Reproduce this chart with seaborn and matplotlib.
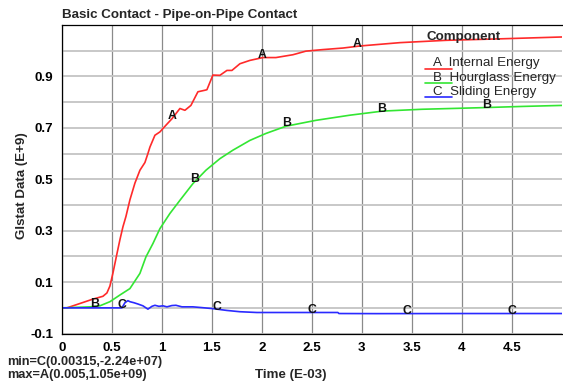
import numpy as np
import pandas as pd
import matplotlib
matplotlib.use("Agg")
import matplotlib.pyplot as plt
from matplotlib.ticker import MultipleLocator
import seaborn as sns

# time axis is in E-03 s, energies in E+9
t_internal = [0, 0.05, 0.18, 0.31, 0.41, 0.45, 0.48, 0.51, 0.55, 0.58, 0.61, 0.64,
              0.68, 0.73, 0.78, 0.83, 0.86, 0.88, 0.93, 0.98, 1.04, 1.10, 1.18, 1.23,
              1.29, 1.36, 1.43, 1.45, 1.51, 1.58, 1.65, 1.70, 1.78, 1.88, 2.01, 2.14,
              2.31, 2.44, 2.61, 2.81, 2.98, 3.38, 3.84, 4.40, 5.00]
e_internal = [0, 0, 0.017, 0.034, 0.045, 0.058, 0.085, 0.135, 0.21, 0.265, 0.315, 0.355,
              0.42, 0.485, 0.535, 0.565, 0.60, 0.625, 0.671, 0.684, 0.71, 0.735, 0.775, 0.768,
              0.787, 0.84, 0.846, 0.848, 0.905, 0.904, 0.923, 0.923, 0.949, 0.962, 0.973, 0.973,
              0.984, 0.998, 1.004, 1.01, 1.018, 1.031, 1.04, 1.046, 1.053]

t_hourglass = [0, 0.28, 0.38, 0.48, 0.58, 0.68, 0.78, 0.84, 0.91, 0.98, 1.08, 1.18, 1.31,
               1.44, 1.58, 1.71, 1.88, 2.04, 2.24, 2.54, 2.88, 3.21, 3.60, 4.18, 4.60, 5.00]
e_hourglass = [0, 0.004, 0.008, 0.024, 0.05, 0.075, 0.134, 0.198, 0.25, 0.308, 0.367, 0.418, 0.483,
               0.535, 0.58, 0.613, 0.651, 0.678, 0.706, 0.729, 0.749, 0.765, 0.772, 0.778, 0.783, 0.787]

t_sliding = [0, 0.60, 0.63, 0.66, 0.68, 0.72, 0.76, 0.81, 0.86, 0.90, 0.93, 0.97, 1.01, 1.05,
             1.10, 1.14, 1.20, 1.31, 1.40, 1.51, 1.65, 1.78, 1.95, 2.38, 2.76, 2.77, 3.15, 4.00, 5.00]
e_sliding = [0, 0, 0.02, 0.028, 0.024, 0.02, 0.015, 0.008, -0.005, 0.006, 0.01, 0.006, 0.008, 0.004,
             0.009, 0.01, 0.004, 0.004, 0.001, -0.003, -0.01, -0.015, -0.018, -0.018, -0.018, -0.022,
             -0.0224, -0.022, -0.022]

series_names = ["Internal Energy", "Hourglass Energy", "Sliding Energy"]
series_letters = ["A", "B", "C"]
series_colors = ["#ff2a2a", "#33e633", "#2a2aff"]

# where the curve letters sit along the time axis
label_t_A = [1.10, 2.00, 2.95]
label_t_B = [0.33, 1.33, 2.25, 3.20, 4.25]
label_t_C = [0.60, 1.55, 2.50, 3.45, 4.50]

y_ticks = [-0.1, 0.0, 0.1, 0.2, 0.3, 0.4, 0.5, 0.6, 0.7, 0.8, 0.9, 1.0]
y_tick_labels = ["-0.1", "", "0.1", "", "0.3", "", "0.5", "", "0.7", "", "0.9", ""]
x_ticks = [0, 0.5, 1, 1.5, 2, 2.5, 3, 3.5, 4, 4.5]
x_tick_labels = ["0", "0.5", "1", "1.5", "2", "2.5", "3", "3.5", "4", "4.5"]

df = pd.concat([
    pd.DataFrame({"t": t_internal, "e": e_internal, "comp": series_names[0]}),
    pd.DataFrame({"t": t_hourglass, "e": e_hourglass, "comp": series_names[1]}),
    pd.DataFrame({"t": t_sliding, "e": e_sliding, "comp": series_names[2]}),
])

sns.set_style("white")
plt.rcParams["font.family"] = ["Liberation Sans", "DejaVu Sans"]
FS = 9.6

fig = plt.figure(figsize=(5.63, 3.83), dpi=100)
ax = fig.add_axes([0.110, 0.129, 0.888, 0.806])

sns.lineplot(data=df, x="t", y="e", hue="comp", palette=series_colors,
             estimator=None, sort=False, linewidth=1.2, legend=False, ax=ax)

# grid: every 0.1 horizontally, every 0.5 vertically
ax.set_yticks(y_ticks)
ax.set_yticklabels(y_tick_labels)
ax.set_xticks(x_ticks)
ax.set_xticklabels(x_tick_labels)
ax.yaxis.set_minor_locator(MultipleLocator(0.05))
ax.xaxis.set_minor_locator(MultipleLocator(0.25))
ax.set_xlim(0, 5)
ax.set_ylim(-0.1, 1.1)

ax.grid(True, which="major", axis="y", color="#c4c4c4", linewidth=1.3)
ax.grid(True, which="major", axis="x", color="#8a8a8a", linewidth=0.9)
ax.set_axisbelow(True)

ax.tick_params(axis="both", which="major", direction="inout", length=6, width=0.8,
               labelsize=FS, colors="black", pad=3)
ax.tick_params(axis="both", which="minor", direction="in", length=4, width=0.8)
for lab in ax.get_xticklabels() + ax.get_yticklabels():
    lab.set_fontweight("bold")

for side in ["left", "bottom", "top"]:
    ax.spines[side].set_color("black")
    ax.spines[side].set_linewidth(0.9)
ax.spines["right"].set_visible(False)

ax.set_xlabel("Time (E-03)", fontsize=FS, fontweight="bold")
ax.xaxis.set_label_coords(0.458, -0.115)
ax.set_ylabel("Glstat Data (E+9)", fontsize=FS, fontweight="bold")
ax.yaxis.set_label_coords(-0.068, 0.48)
ax.set_title("Basic Contact - Pipe-on-Pipe Contact", fontsize=FS, fontweight="bold",
             loc="left", pad=5)

# curve letters placed on each line
letter_sets = [(series_letters[0], label_t_A, t_internal, e_internal),
               (series_letters[1], label_t_B, t_hourglass, e_hourglass),
               (series_letters[2], label_t_C, t_sliding, e_sliding)]
for letter, pos, tt, ee in letter_sets:
    for p in pos:
        ax.text(p, np.interp(p, tt, ee) + 0.01, letter, fontsize=FS - 0.8, color="#111111",
                fontweight="bold", ha="center", va="center")

# hand-drawn style legend like the LS-PrePost one
ax.text(0.73, 0.961, "Component", transform=ax.transAxes, fontsize=FS,
        fontweight="bold", va="center")
leg_y = [0.875, 0.829, 0.783]
for i in range(3):
    ax.plot([0.726, 0.78], [leg_y[i] - 0.018] * 2, transform=ax.transAxes,
            color=series_colors[i], linewidth=1.2)
    ax.text(0.743, leg_y[i], f"{series_letters[i]}  {series_names[i]}",
            transform=ax.transAxes, fontsize=FS, va="center")

fig.text(0.012, 0.055, "min=C(0.00315,-2.24e+07)", fontsize=9.2, fontweight="bold", va="center")
fig.text(0.012, 0.021, "max=A(0.005,1.05e+09)", fontsize=9.2, fontweight="bold", va="center")

fig.savefig("out.png", dpi=100)
